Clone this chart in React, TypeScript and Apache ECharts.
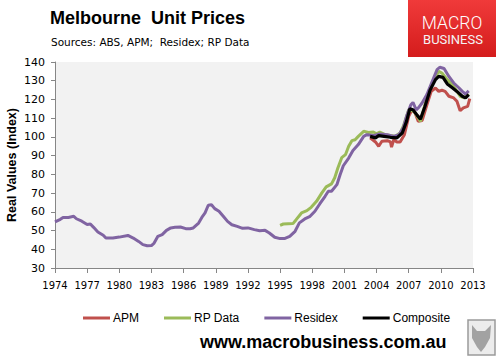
import React, { useEffect, useRef } from "react";
import * as echarts from "echarts";

const xTicks = { min: 1974, max: 2013, interval: 3 };
const yTicks = { min: 30, max: 140, interval: 10 };

const residexYears = [1974.0,1974.5,1974.75,1975.25,1975.75,1976.0,1976.5,1977.0,1977.3,1977.6,1978.0,1978.5,1978.75,1979.4,1980.0,1980.8,1981.3,1981.8,1982.2,1982.6,1983.0,1983.25,1983.6,1984.0,1984.4,1984.8,1985.2,1985.7,1986.2,1986.6,1986.9,1987.4,1987.7,1988.0,1988.3,1988.6,1988.9,1989.3,1989.7,1990.1,1990.5,1991.0,1991.5,1992.0,1992.6,1993.1,1993.6,1994.0,1994.5,1995.0,1995.4,1995.9,1996.4,1996.8,1997.3,1997.8,1998.25,1998.7,1999.2,1999.5,1999.8,2000.3,2000.6,2000.9,2001.4,2001.8,2002.3,2002.8,2003.1,2003.7,2004.3,2005.0,2005.6,2006.1,2006.5,2006.8,2007.2,2007.4,2007.7,2007.9,2008.25,2008.7,2009.2,2009.65,2009.9,2010.3,2010.75,2011.2,2011.7,2012.0,2012.3,2012.6];
const residexValues = [54.6,56,57,57,57.6,56.3,55,53.2,53.5,51.7,49.2,47.5,46,46,46.5,47.4,46,44.2,42.5,41.9,42,43.3,46.9,47.8,50.1,51.4,51.7,51.9,51,51,51.4,54,57,59.4,63.5,63.8,61.7,60.3,57.6,54.9,53.1,52.2,51.2,51.4,50.5,49.9,50.1,48.7,46.4,45.7,45.7,46.9,49.6,54.1,56.2,57.6,60.3,64.2,68.3,71,71,74.5,79.8,84.6,88.7,92.7,95.9,100.3,101.2,100.7,101.6,101.2,100.3,101.2,104.8,111,117.2,118.4,114.5,115.5,118.1,122.6,129.7,135.9,137.2,136.5,132.3,128.8,126.1,124.3,122.9,124.6];

const rpYears = [1995.0,1995.3,1996.2,1996.5,1997.0,1997.5,1997.9,1998.4,1998.9,1999.3,1999.8,2000.1,2000.4,2000.75,2001.1,2001.4,2001.7,2002.0,2002.3,2002.8,2003.25,2003.7,2004.0,2004.3,2004.8,2005.3,2005.75,2006.2,2006.5,2007.0,2007.5,2008.1,2008.6,2009.2,2009.8,2010.1,2010.6,2011.2,2011.8,2012.2,2012.6];
const rpValues = [52.8,53.5,53.7,55.8,59.4,60.6,62.4,65.6,70.1,73.3,74.9,78.2,83.5,88.9,90.5,95,98,98.5,100.3,103,102.4,102.6,101.7,102.6,101.2,100.7,100.3,102.1,105.7,114.5,113.7,108.3,119,128.8,135,134.1,130.6,127,121.7,120.8,122.9];

const apmYears = [2003.4,2003.9,2004.2,2004.5,2005.0,2005.3,2005.4,2005.6,2005.9,2006.2,2006.6,2007.0,2007.3,2007.6,2007.9,2008.25,2008.7,2009.1,2009.5,2009.8,2010.1,2010.4,2010.75,2011.2,2011.5,2011.8,2012.1,2012.5,2012.7];
const apmValues = [99.5,97.3,95,97.7,98,97.3,94.5,98.5,97.3,97.3,101.2,111,114.5,112.8,108.3,108.7,117.2,124.3,126.1,124.3,124.9,124.3,121.7,120.8,119,114,115.5,116.3,120.4];

const compYears = [2003.4,2003.9,2004.2,2004.7,2005.3,2005.9,2006.4,2006.8,2007.1,2007.4,2007.8,2008.1,2008.5,2009.0,2009.5,2009.8,2010.2,2010.6,2011.1,2011.5,2012.0,2012.3,2012.6];
const compValues = [100.3,99.5,100.7,100.3,99.8,99.5,102.1,108.3,115,114.5,111.5,109.5,116,125,130.6,132.3,131.8,128.3,126.1,124.3,121.7,120.8,122.6];

const seriesNames = ["APM", "RP Data", "Residex", "Composite"];
const seriesColors = ["#c0504d", "#9bbb59", "#8064a2", "#000000"];

const zip = (xs: number[], ys: number[]) => xs.map((x, i) => [x, ys[i]]);

export default function App() {
  const ref = useRef<HTMLDivElement>(null);
  useEffect(() => {
    if (!ref.current) return;
    const chart = echarts.init(ref.current, null, { renderer: "svg" });
    const datasets = [
      zip(apmYears, apmValues),
      zip(rpYears, rpValues),
      zip(residexYears, residexValues),
      zip(compYears, compValues),
    ];
    const option: any = {
      animation: false,
      backgroundColor: "#ffffff",
      grid: {
        left: 55,
        top: 62,
        width: 418,
        height: 206,
        show: true,
        backgroundColor: "#f2f2f2",
        borderWidth: 0,
      },
      legend: {
        left: 78,
        top: 307,
        icon: "rect",
        itemWidth: 27,
        itemHeight: 3,
        itemGap: 25,
        textStyle: { fontFamily: "Liberation Sans", fontSize: 12, color: "#000", padding: [0, 0, 0, -2] },
        data: seriesNames,
      },
      xAxis: {
        type: "value",
        min: xTicks.min,
        max: xTicks.max,
        interval: xTicks.interval,
        axisLine: { show: true, lineStyle: { color: "#868686", width: 1 } },
        axisTick: { show: true, length: 5, lineStyle: { color: "#868686" } },
        splitLine: { show: false },
        axisLabel: {
          fontFamily: "DejaVu Sans",
          fontSize: 10,
          color: "#000",
          margin: 12,
          formatter: (v: number) => String(v),
        },
      },
      yAxis: {
        type: "value",
        min: yTicks.min,
        max: yTicks.max,
        interval: yTicks.interval,
        axisLine: { show: true, lineStyle: { color: "#868686", width: 1 } },
        axisTick: { show: true, length: 4, lineStyle: { color: "#868686" } },
        splitLine: { show: false },
        axisLabel: { fontFamily: "DejaVu Sans", fontSize: 11, color: "#000", margin: 10 },
      },
      series: datasets.map((d, i) => ({
        name: seriesNames[i],
        type: "line",
        data: d,
        symbol: "none",
        color: seriesColors[i],
        lineStyle: { color: seriesColors[i], width: i === 3 ? 3.2 : 3 },
        z: 2 + i,
      })),
      graphic: [
        {
          type: "text",
          left: 50,
          top: 9,
          style: {
            text: "Melbourne  Unit Prices",
            fontFamily: "Liberation Sans",
            fontWeight: "bold",
            fontSize: 18,
            fill: "#000",
          },
        },
        {
          type: "text",
          left: 51,
          top: 36,
          style: {
            text: "Sources: ABS, APM;  Residex; RP Data",
            fontFamily: "DejaVu Sans",
            fontSize: 10.5,
            fill: "#000",
          },
        },
        {
          type: "rect",
          shape: { x: 408, y: 0, width: 88, height: 57 },
          style: {
            fill: new echarts.graphic.LinearGradient(0, 0, 0, 1, [
              { offset: 0, color: "#f03a3a" },
              { offset: 1, color: "#d41c1c" },
            ]),
          },
        },
        {
          type: "text",
          x: 452,
          y: 23,
          style: {
            text: "MACRO",
            fontFamily: "Roboto",
            fontWeight: 300,
            fontSize: 17.5,
            fill: "#ffffff",
            align: "center",
            verticalAlign: "middle",
          },
        },
        {
          type: "text",
          x: 453,
          y: 39.5,
          style: {
            text: "BUSINESS",
            fontFamily: "Roboto",
            fontSize: 13,
            fill: "#f4f4f4",
            align: "center",
            verticalAlign: "middle",
          },
        },
        {
          type: "text",
          x: 12,
          y: 165,
          rotation: Math.PI / 2,
          style: {
            text: "Real Values (Index)",
            fontFamily: "Liberation Sans",
            fontWeight: "bold",
            fontSize: 12.5,
            fill: "#000",
            align: "center",
            verticalAlign: "middle",
          },
        },
        {
          type: "text",
          x: 200,
          y: 342,
          style: {
            text: "www.macrobusiness.com.au",
            fontFamily: "Liberation Sans",
            fontWeight: "bold",
            fontSize: 18,
            fill: "#000",
            align: "left",
            verticalAlign: "middle",
          },
        },
        {
          type: "rect",
          shape: { x: 468, y: 320, width: 27, height: 35 },
          style: { fill: "#ececec", stroke: "#9a9a9a", lineWidth: 1.5 },
        },
        {
          type: "polygon",
          shape: {
            points: [
              [472, 325], [477, 331], [485, 331], [491, 325], [490, 338],
              [485, 347], [481, 352], [477, 347], [472, 338],
            ],
          },
          style: { fill: "#8a8a8a", opacity: 0.75 },
        },
      ],
    };
    chart.setOption(option);
    return () => chart.dispose();
  }, []);
  return (
    <div
      ref={ref}
      style={{ position: "fixed", left: 0, top: 0, width: 498, height: 360 }}
    />
  );
}
